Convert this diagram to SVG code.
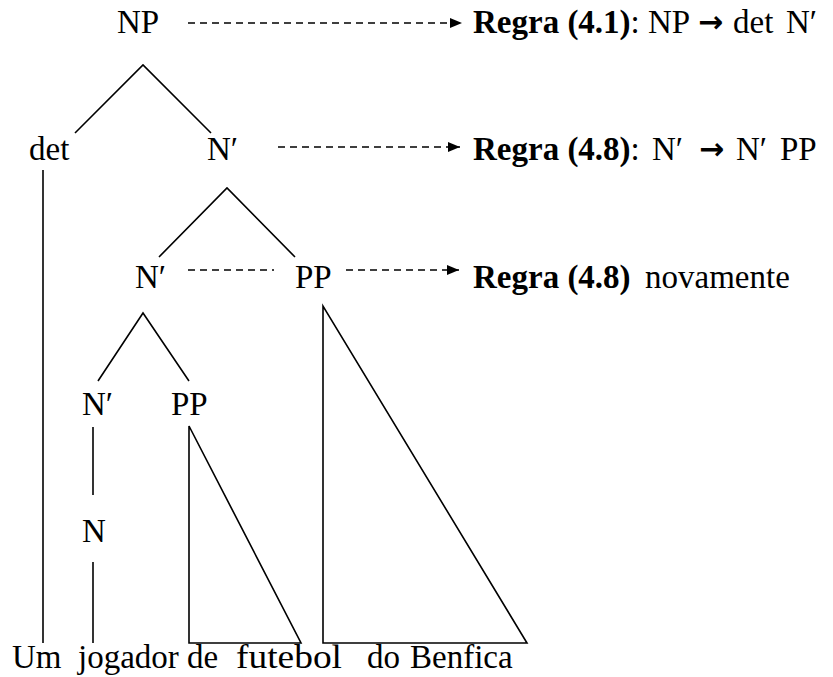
<svg xmlns="http://www.w3.org/2000/svg" width="833" height="677" viewBox="0 0 833 677">
<style>
text{font-family:"Liberation Serif","DejaVu Serif",serif;font-size:33px;fill:#000}
.b{font-weight:bold}
.arr{font-family:"DejaVu Sans",sans-serif;font-weight:bold;font-size:30px}
.ln{stroke:#000;stroke-width:1.6;fill:none}
.dash{stroke:#000;stroke-width:1.5;fill:none;stroke-dasharray:7 5}
</style>
<defs>
<marker id="ah" viewBox="0 0 12 10" refX="12" refY="5" markerWidth="12" markerHeight="10" markerUnits="userSpaceOnUse" orient="auto">
<path d="M0,0 L12,5 L0,10 Z" fill="#000"/>
</marker>
</defs>
<rect width="833" height="677" fill="#fff"/>
<g id="connectors">
<path class="ln" d="M75,133 L143,65 L211,133"/>
<path class="ln" d="M159,257 L227,188 L295,257"/>
<path class="ln" d="M98,381 L143,313 L189,381"/>
<line class="ln" x1="43" y1="170" x2="43" y2="643"/>
<line class="ln" x1="93" y1="427" x2="93" y2="495"/>
<line class="ln" x1="93" y1="562" x2="93" y2="643"/>
<path class="ln" d="M189,426 L189,643 L301,643 Z"/>
<path class="ln" d="M323,306 L323,643 L527,643 Z"/>
<line class="dash" x1="188" y1="23" x2="462" y2="23" marker-end="url(#ah)"/>
<line class="dash" x1="278" y1="147" x2="460" y2="147" marker-end="url(#ah)"/>
<line class="dash" x1="188" y1="270" x2="274" y2="270"/>
<line class="dash" x1="346" y1="270" x2="459" y2="270" marker-end="url(#ah)"/>
</g>
<g id="n-np"><text x="117" y="33">NP</text></g>
<g id="n-det"><text x="29" y="160">det</text></g>
<g id="n-nbar1"><text x="207" y="160">N′</text></g>
<g id="n-nbar2"><text x="135" y="288">N′</text></g>
<g id="n-pp1"><text x="295" y="288">PP</text></g>
<g id="n-nbar3"><text x="82" y="415">N′</text></g>
<g id="n-pp2"><text x="171" y="415">PP</text></g>
<g id="n-n"><text x="82" y="542">N</text></g>
<g id="words">
<text x="12" y="668">Um</text>
<text x="78" y="668">jogador</text>
<text x="187" y="668">de</text>
<text x="236" y="668" textLength="106" lengthAdjust="spacingAndGlyphs">futebol</text>
<text x="367" y="668">do</text>
<text x="410" y="668">Benfica</text>
</g>
<g id="rule1"><text y="33"><tspan class="b" x="473">Regra (4.1)</tspan>:<tspan x="648">NP</tspan><tspan class="arr" x="698" y="32">→</tspan><tspan x="733" y="33">det</tspan><tspan x="786">N′</tspan></text></g>
<g id="rule2"><text y="160"><tspan class="b" x="473">Regra (4.8)</tspan>:<tspan x="652">N′</tspan><tspan class="arr" x="699" y="159">→</tspan><tspan x="736" y="160">N′</tspan><tspan x="780">PP</tspan></text></g>
<g id="rule3"><text y="288"><tspan class="b" x="473">Regra (4.8)</tspan><tspan x="645">novamente</tspan></text></g>
</svg>
